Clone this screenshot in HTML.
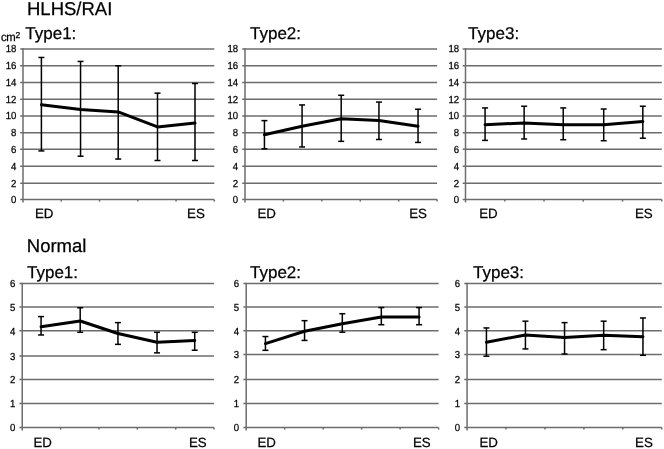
<!DOCTYPE html>
<html><head><meta charset="utf-8"><style>
html,body{margin:0;padding:0;background:#fff;width:664px;height:449px;overflow:hidden}
svg{display:block}
text{font-family:"Liberation Sans", sans-serif;fill:#000;stroke:#000;stroke-width:0.25px;text-rendering:geometricPrecision}
svg{will-change:transform}
</style></head><body>
<svg width="664" height="449" viewBox="0 0 664 449">
<rect width="664" height="449" fill="#fff"/>
<line x1="20.20" y1="199.57" x2="214.30" y2="199.57" stroke="#6c6c6c" stroke-width="1.5"/>
<text transform="translate(16.30,202.97) scale(0.94,1)" font-size="10.2" text-anchor="end">0</text>
<line x1="20.20" y1="183.33" x2="214.30" y2="183.33" stroke="#6c6c6c" stroke-width="1.5"/>
<text transform="translate(16.30,186.73) scale(0.94,1)" font-size="10.2" text-anchor="end">2</text>
<line x1="20.20" y1="166.37" x2="214.30" y2="166.37" stroke="#6c6c6c" stroke-width="1.5"/>
<text transform="translate(16.30,169.77) scale(0.94,1)" font-size="10.2" text-anchor="end">4</text>
<line x1="20.20" y1="149.37" x2="214.30" y2="149.37" stroke="#6c6c6c" stroke-width="1.5"/>
<text transform="translate(16.30,152.77) scale(0.94,1)" font-size="10.2" text-anchor="end">6</text>
<line x1="20.20" y1="132.83" x2="214.30" y2="132.83" stroke="#6c6c6c" stroke-width="1.5"/>
<text transform="translate(16.30,136.23) scale(0.94,1)" font-size="10.2" text-anchor="end">8</text>
<line x1="20.20" y1="116.00" x2="214.30" y2="116.00" stroke="#6c6c6c" stroke-width="1.5"/>
<text transform="translate(16.30,119.40) scale(0.94,1)" font-size="10.2" text-anchor="end">10</text>
<line x1="20.20" y1="99.37" x2="214.30" y2="99.37" stroke="#6c6c6c" stroke-width="1.5"/>
<text transform="translate(16.30,102.77) scale(0.94,1)" font-size="10.2" text-anchor="end">12</text>
<line x1="20.20" y1="82.57" x2="214.30" y2="82.57" stroke="#6c6c6c" stroke-width="1.5"/>
<text transform="translate(16.30,85.97) scale(0.94,1)" font-size="10.2" text-anchor="end">14</text>
<line x1="20.20" y1="65.70" x2="214.30" y2="65.70" stroke="#6c6c6c" stroke-width="1.5"/>
<text transform="translate(16.30,69.10) scale(0.94,1)" font-size="10.2" text-anchor="end">16</text>
<line x1="20.20" y1="48.94" x2="214.30" y2="48.94" stroke="#6c6c6c" stroke-width="1.5"/>
<text transform="translate(16.30,52.34) scale(0.94,1)" font-size="10.2" text-anchor="end">18</text>
<line x1="23.00" y1="48.19" x2="23.00" y2="202.40" stroke="#6c6c6c" stroke-width="1.5"/>
<line x1="61.26" y1="199.60" x2="61.26" y2="201.60" stroke="#6c6c6c" stroke-width="1.5"/>
<line x1="99.52" y1="199.60" x2="99.52" y2="201.60" stroke="#6c6c6c" stroke-width="1.5"/>
<line x1="137.78" y1="199.60" x2="137.78" y2="201.60" stroke="#6c6c6c" stroke-width="1.5"/>
<line x1="176.04" y1="199.60" x2="176.04" y2="201.60" stroke="#6c6c6c" stroke-width="1.5"/>
<line x1="214.30" y1="199.60" x2="214.30" y2="201.60" stroke="#6c6c6c" stroke-width="1.5"/>
<line x1="41.40" y1="57.47" x2="41.40" y2="150.93" stroke="#000" stroke-width="1.5"/>
<line x1="38.40" y1="57.47" x2="44.40" y2="57.47" stroke="#000" stroke-width="1.5"/>
<line x1="38.40" y1="150.93" x2="44.40" y2="150.93" stroke="#000" stroke-width="1.5"/>
<line x1="80.55" y1="61.42" x2="80.55" y2="156.21" stroke="#000" stroke-width="1.5"/>
<line x1="77.55" y1="61.42" x2="83.55" y2="61.42" stroke="#000" stroke-width="1.5"/>
<line x1="77.55" y1="156.21" x2="83.55" y2="156.21" stroke="#000" stroke-width="1.5"/>
<line x1="118.20" y1="65.78" x2="118.20" y2="159.06" stroke="#000" stroke-width="1.5"/>
<line x1="115.20" y1="65.78" x2="121.20" y2="65.78" stroke="#000" stroke-width="1.5"/>
<line x1="115.20" y1="159.06" x2="121.20" y2="159.06" stroke="#000" stroke-width="1.5"/>
<line x1="157.50" y1="93.13" x2="157.50" y2="160.49" stroke="#000" stroke-width="1.5"/>
<line x1="154.50" y1="93.13" x2="160.50" y2="93.13" stroke="#000" stroke-width="1.5"/>
<line x1="154.50" y1="160.49" x2="160.50" y2="160.49" stroke="#000" stroke-width="1.5"/>
<line x1="195.00" y1="83.48" x2="195.00" y2="160.49" stroke="#000" stroke-width="1.5"/>
<line x1="192.00" y1="83.48" x2="198.00" y2="83.48" stroke="#000" stroke-width="1.5"/>
<line x1="192.00" y1="160.49" x2="198.00" y2="160.49" stroke="#000" stroke-width="1.5"/>
<polyline points="41.40,104.83 80.55,109.45 118.20,111.97 157.50,126.90 195.00,123.04" fill="none" stroke="#000" stroke-width="3" stroke-linejoin="round" stroke-linecap="round"/>
<line x1="242.20" y1="199.57" x2="437.10" y2="199.57" stroke="#6c6c6c" stroke-width="1.5"/>
<text transform="translate(238.20,202.97) scale(0.94,1)" font-size="10.2" text-anchor="end">0</text>
<line x1="242.20" y1="183.33" x2="437.10" y2="183.33" stroke="#6c6c6c" stroke-width="1.5"/>
<text transform="translate(238.20,186.73) scale(0.94,1)" font-size="10.2" text-anchor="end">2</text>
<line x1="242.20" y1="166.37" x2="437.10" y2="166.37" stroke="#6c6c6c" stroke-width="1.5"/>
<text transform="translate(238.20,169.77) scale(0.94,1)" font-size="10.2" text-anchor="end">4</text>
<line x1="242.20" y1="149.37" x2="437.10" y2="149.37" stroke="#6c6c6c" stroke-width="1.5"/>
<text transform="translate(238.20,152.77) scale(0.94,1)" font-size="10.2" text-anchor="end">6</text>
<line x1="242.20" y1="132.83" x2="437.10" y2="132.83" stroke="#6c6c6c" stroke-width="1.5"/>
<text transform="translate(238.20,136.23) scale(0.94,1)" font-size="10.2" text-anchor="end">8</text>
<line x1="242.20" y1="116.00" x2="437.10" y2="116.00" stroke="#6c6c6c" stroke-width="1.5"/>
<text transform="translate(238.20,119.40) scale(0.94,1)" font-size="10.2" text-anchor="end">10</text>
<line x1="242.20" y1="99.37" x2="437.10" y2="99.37" stroke="#6c6c6c" stroke-width="1.5"/>
<text transform="translate(238.20,102.77) scale(0.94,1)" font-size="10.2" text-anchor="end">12</text>
<line x1="242.20" y1="82.57" x2="437.10" y2="82.57" stroke="#6c6c6c" stroke-width="1.5"/>
<text transform="translate(238.20,85.97) scale(0.94,1)" font-size="10.2" text-anchor="end">14</text>
<line x1="242.20" y1="65.70" x2="437.10" y2="65.70" stroke="#6c6c6c" stroke-width="1.5"/>
<text transform="translate(238.20,69.10) scale(0.94,1)" font-size="10.2" text-anchor="end">16</text>
<line x1="242.20" y1="48.94" x2="437.10" y2="48.94" stroke="#6c6c6c" stroke-width="1.5"/>
<text transform="translate(238.20,52.34) scale(0.94,1)" font-size="10.2" text-anchor="end">18</text>
<line x1="245.00" y1="48.19" x2="245.00" y2="202.40" stroke="#6c6c6c" stroke-width="1.5"/>
<line x1="283.42" y1="199.60" x2="283.42" y2="201.60" stroke="#6c6c6c" stroke-width="1.5"/>
<line x1="321.84" y1="199.60" x2="321.84" y2="201.60" stroke="#6c6c6c" stroke-width="1.5"/>
<line x1="360.26" y1="199.60" x2="360.26" y2="201.60" stroke="#6c6c6c" stroke-width="1.5"/>
<line x1="398.68" y1="199.60" x2="398.68" y2="201.60" stroke="#6c6c6c" stroke-width="1.5"/>
<line x1="437.10" y1="199.60" x2="437.10" y2="201.60" stroke="#6c6c6c" stroke-width="1.5"/>
<line x1="264.43" y1="120.62" x2="264.43" y2="148.81" stroke="#000" stroke-width="1.5"/>
<line x1="261.43" y1="120.62" x2="267.43" y2="120.62" stroke="#000" stroke-width="1.5"/>
<line x1="261.43" y1="148.81" x2="267.43" y2="148.81" stroke="#000" stroke-width="1.5"/>
<line x1="302.07" y1="104.93" x2="302.07" y2="146.96" stroke="#000" stroke-width="1.5"/>
<line x1="299.07" y1="104.93" x2="305.07" y2="104.93" stroke="#000" stroke-width="1.5"/>
<line x1="299.07" y1="146.96" x2="305.07" y2="146.96" stroke="#000" stroke-width="1.5"/>
<line x1="341.19" y1="95.29" x2="341.19" y2="141.34" stroke="#000" stroke-width="1.5"/>
<line x1="338.19" y1="95.29" x2="344.19" y2="95.29" stroke="#000" stroke-width="1.5"/>
<line x1="338.19" y1="141.34" x2="344.19" y2="141.34" stroke="#000" stroke-width="1.5"/>
<line x1="378.95" y1="102.08" x2="378.95" y2="139.50" stroke="#000" stroke-width="1.5"/>
<line x1="375.95" y1="102.08" x2="381.95" y2="102.08" stroke="#000" stroke-width="1.5"/>
<line x1="375.95" y1="139.50" x2="381.95" y2="139.50" stroke="#000" stroke-width="1.5"/>
<line x1="418.04" y1="109.21" x2="418.04" y2="142.43" stroke="#000" stroke-width="1.5"/>
<line x1="415.04" y1="109.21" x2="421.04" y2="109.21" stroke="#000" stroke-width="1.5"/>
<line x1="415.04" y1="142.43" x2="421.04" y2="142.43" stroke="#000" stroke-width="1.5"/>
<polyline points="264.43,134.75 302.07,126.19 341.19,118.72 378.95,120.49 418.04,126.19" fill="none" stroke="#000" stroke-width="3" stroke-linejoin="round" stroke-linecap="round"/>
<line x1="462.70" y1="199.57" x2="661.80" y2="199.57" stroke="#6c6c6c" stroke-width="1.5"/>
<text transform="translate(459.20,202.97) scale(0.94,1)" font-size="10.2" text-anchor="end">0</text>
<line x1="462.70" y1="183.33" x2="661.80" y2="183.33" stroke="#6c6c6c" stroke-width="1.5"/>
<text transform="translate(459.20,186.73) scale(0.94,1)" font-size="10.2" text-anchor="end">2</text>
<line x1="462.70" y1="166.37" x2="661.80" y2="166.37" stroke="#6c6c6c" stroke-width="1.5"/>
<text transform="translate(459.20,169.77) scale(0.94,1)" font-size="10.2" text-anchor="end">4</text>
<line x1="462.70" y1="149.37" x2="661.80" y2="149.37" stroke="#6c6c6c" stroke-width="1.5"/>
<text transform="translate(459.20,152.77) scale(0.94,1)" font-size="10.2" text-anchor="end">6</text>
<line x1="462.70" y1="132.83" x2="661.80" y2="132.83" stroke="#6c6c6c" stroke-width="1.5"/>
<text transform="translate(459.20,136.23) scale(0.94,1)" font-size="10.2" text-anchor="end">8</text>
<line x1="462.70" y1="116.00" x2="661.80" y2="116.00" stroke="#6c6c6c" stroke-width="1.5"/>
<text transform="translate(459.20,119.40) scale(0.94,1)" font-size="10.2" text-anchor="end">10</text>
<line x1="462.70" y1="99.37" x2="661.80" y2="99.37" stroke="#6c6c6c" stroke-width="1.5"/>
<text transform="translate(459.20,102.77) scale(0.94,1)" font-size="10.2" text-anchor="end">12</text>
<line x1="462.70" y1="82.57" x2="661.80" y2="82.57" stroke="#6c6c6c" stroke-width="1.5"/>
<text transform="translate(459.20,85.97) scale(0.94,1)" font-size="10.2" text-anchor="end">14</text>
<line x1="462.70" y1="65.70" x2="661.80" y2="65.70" stroke="#6c6c6c" stroke-width="1.5"/>
<text transform="translate(459.20,69.10) scale(0.94,1)" font-size="10.2" text-anchor="end">16</text>
<line x1="462.70" y1="48.94" x2="661.80" y2="48.94" stroke="#6c6c6c" stroke-width="1.5"/>
<text transform="translate(459.20,52.34) scale(0.94,1)" font-size="10.2" text-anchor="end">18</text>
<line x1="465.50" y1="48.19" x2="465.50" y2="202.40" stroke="#6c6c6c" stroke-width="1.5"/>
<line x1="504.76" y1="199.60" x2="504.76" y2="201.60" stroke="#6c6c6c" stroke-width="1.5"/>
<line x1="544.02" y1="199.60" x2="544.02" y2="201.60" stroke="#6c6c6c" stroke-width="1.5"/>
<line x1="583.28" y1="199.60" x2="583.28" y2="201.60" stroke="#6c6c6c" stroke-width="1.5"/>
<line x1="622.54" y1="199.60" x2="622.54" y2="201.60" stroke="#6c6c6c" stroke-width="1.5"/>
<line x1="661.80" y1="199.60" x2="661.80" y2="201.60" stroke="#6c6c6c" stroke-width="1.5"/>
<line x1="485.07" y1="107.92" x2="485.07" y2="140.39" stroke="#000" stroke-width="1.5"/>
<line x1="482.07" y1="107.92" x2="488.07" y2="107.92" stroke="#000" stroke-width="1.5"/>
<line x1="482.07" y1="140.39" x2="488.07" y2="140.39" stroke="#000" stroke-width="1.5"/>
<line x1="524.14" y1="106.24" x2="524.14" y2="138.96" stroke="#000" stroke-width="1.5"/>
<line x1="521.14" y1="106.24" x2="527.14" y2="106.24" stroke="#000" stroke-width="1.5"/>
<line x1="521.14" y1="138.96" x2="527.14" y2="138.96" stroke="#000" stroke-width="1.5"/>
<line x1="563.23" y1="107.92" x2="563.23" y2="139.72" stroke="#000" stroke-width="1.5"/>
<line x1="560.23" y1="107.92" x2="566.23" y2="107.92" stroke="#000" stroke-width="1.5"/>
<line x1="560.23" y1="139.72" x2="566.23" y2="139.72" stroke="#000" stroke-width="1.5"/>
<line x1="603.71" y1="109.01" x2="603.71" y2="140.72" stroke="#000" stroke-width="1.5"/>
<line x1="600.71" y1="109.01" x2="606.71" y2="109.01" stroke="#000" stroke-width="1.5"/>
<line x1="600.71" y1="140.72" x2="606.71" y2="140.72" stroke="#000" stroke-width="1.5"/>
<line x1="642.83" y1="106.24" x2="642.83" y2="138.21" stroke="#000" stroke-width="1.5"/>
<line x1="639.83" y1="106.24" x2="645.83" y2="106.24" stroke="#000" stroke-width="1.5"/>
<line x1="639.83" y1="138.21" x2="645.83" y2="138.21" stroke="#000" stroke-width="1.5"/>
<polyline points="485.07,124.68 524.14,123.00 563.23,124.68 603.71,124.68 642.83,121.49" fill="none" stroke="#000" stroke-width="3" stroke-linejoin="round" stroke-linecap="round"/>
<line x1="19.43" y1="427.49" x2="214.05" y2="427.49" stroke="#6c6c6c" stroke-width="1.5"/>
<text transform="translate(15.30,431.24) scale(0.94,1)" font-size="10.2" text-anchor="end">0</text>
<line x1="19.43" y1="403.46" x2="214.05" y2="403.46" stroke="#6c6c6c" stroke-width="1.5"/>
<text transform="translate(15.30,407.21) scale(0.94,1)" font-size="10.2" text-anchor="end">1</text>
<line x1="19.43" y1="379.60" x2="214.05" y2="379.60" stroke="#6c6c6c" stroke-width="1.5"/>
<text transform="translate(15.30,383.35) scale(0.94,1)" font-size="10.2" text-anchor="end">2</text>
<line x1="19.43" y1="355.88" x2="214.05" y2="355.88" stroke="#6c6c6c" stroke-width="1.5"/>
<text transform="translate(15.30,359.63) scale(0.94,1)" font-size="10.2" text-anchor="end">3</text>
<line x1="19.43" y1="330.83" x2="214.05" y2="330.83" stroke="#6c6c6c" stroke-width="1.5"/>
<text transform="translate(15.30,334.58) scale(0.94,1)" font-size="10.2" text-anchor="end">4</text>
<line x1="19.43" y1="307.08" x2="214.05" y2="307.08" stroke="#6c6c6c" stroke-width="1.5"/>
<text transform="translate(15.30,310.83) scale(0.94,1)" font-size="10.2" text-anchor="end">5</text>
<line x1="19.43" y1="283.42" x2="214.05" y2="283.42" stroke="#6c6c6c" stroke-width="1.5"/>
<text transform="translate(15.30,287.17) scale(0.94,1)" font-size="10.2" text-anchor="end">6</text>
<line x1="22.23" y1="282.65" x2="22.23" y2="430.40" stroke="#6c6c6c" stroke-width="1.5"/>
<line x1="60.59" y1="427.60" x2="60.59" y2="429.60" stroke="#6c6c6c" stroke-width="1.5"/>
<line x1="98.96" y1="427.60" x2="98.96" y2="429.60" stroke="#6c6c6c" stroke-width="1.5"/>
<line x1="137.32" y1="427.60" x2="137.32" y2="429.60" stroke="#6c6c6c" stroke-width="1.5"/>
<line x1="175.69" y1="427.60" x2="175.69" y2="429.60" stroke="#6c6c6c" stroke-width="1.5"/>
<line x1="214.05" y1="427.60" x2="214.05" y2="429.60" stroke="#6c6c6c" stroke-width="1.5"/>
<line x1="41.07" y1="316.58" x2="41.07" y2="334.97" stroke="#000" stroke-width="1.5"/>
<line x1="38.07" y1="316.58" x2="44.07" y2="316.58" stroke="#000" stroke-width="1.5"/>
<line x1="38.07" y1="334.97" x2="44.07" y2="334.97" stroke="#000" stroke-width="1.5"/>
<line x1="80.19" y1="307.75" x2="80.19" y2="332.29" stroke="#000" stroke-width="1.5"/>
<line x1="77.19" y1="307.75" x2="83.19" y2="307.75" stroke="#000" stroke-width="1.5"/>
<line x1="77.19" y1="332.29" x2="83.19" y2="332.29" stroke="#000" stroke-width="1.5"/>
<line x1="117.95" y1="322.62" x2="117.95" y2="344.35" stroke="#000" stroke-width="1.5"/>
<line x1="114.95" y1="322.62" x2="120.95" y2="322.62" stroke="#000" stroke-width="1.5"/>
<line x1="114.95" y1="344.35" x2="120.95" y2="344.35" stroke="#000" stroke-width="1.5"/>
<line x1="157.04" y1="332.29" x2="157.04" y2="352.86" stroke="#000" stroke-width="1.5"/>
<line x1="154.04" y1="332.29" x2="160.04" y2="332.29" stroke="#000" stroke-width="1.5"/>
<line x1="154.04" y1="352.86" x2="160.04" y2="352.86" stroke="#000" stroke-width="1.5"/>
<line x1="194.71" y1="332.29" x2="194.71" y2="350.22" stroke="#000" stroke-width="1.5"/>
<line x1="191.71" y1="332.29" x2="197.71" y2="332.29" stroke="#000" stroke-width="1.5"/>
<line x1="191.71" y1="350.22" x2="197.71" y2="350.22" stroke="#000" stroke-width="1.5"/>
<polyline points="41.07,326.73 80.19,320.98 117.95,333.54 157.04,342.22 194.71,340.50" fill="none" stroke="#000" stroke-width="3" stroke-linejoin="round" stroke-linecap="round"/>
<line x1="243.39" y1="427.49" x2="438.60" y2="427.49" stroke="#6c6c6c" stroke-width="1.5"/>
<text transform="translate(239.20,431.24) scale(0.94,1)" font-size="10.2" text-anchor="end">0</text>
<line x1="243.39" y1="403.46" x2="438.60" y2="403.46" stroke="#6c6c6c" stroke-width="1.5"/>
<text transform="translate(239.20,407.21) scale(0.94,1)" font-size="10.2" text-anchor="end">1</text>
<line x1="243.39" y1="379.60" x2="438.60" y2="379.60" stroke="#6c6c6c" stroke-width="1.5"/>
<text transform="translate(239.20,383.35) scale(0.94,1)" font-size="10.2" text-anchor="end">2</text>
<line x1="243.39" y1="354.46" x2="438.60" y2="354.46" stroke="#6c6c6c" stroke-width="1.5"/>
<text transform="translate(239.20,358.21) scale(0.94,1)" font-size="10.2" text-anchor="end">3</text>
<line x1="243.39" y1="330.83" x2="438.60" y2="330.83" stroke="#6c6c6c" stroke-width="1.5"/>
<text transform="translate(239.20,334.58) scale(0.94,1)" font-size="10.2" text-anchor="end">4</text>
<line x1="243.39" y1="307.08" x2="438.60" y2="307.08" stroke="#6c6c6c" stroke-width="1.5"/>
<text transform="translate(239.20,310.83) scale(0.94,1)" font-size="10.2" text-anchor="end">5</text>
<line x1="243.39" y1="283.42" x2="438.60" y2="283.42" stroke="#6c6c6c" stroke-width="1.5"/>
<text transform="translate(239.20,287.17) scale(0.94,1)" font-size="10.2" text-anchor="end">6</text>
<line x1="246.19" y1="282.65" x2="246.19" y2="430.40" stroke="#6c6c6c" stroke-width="1.5"/>
<line x1="284.67" y1="427.60" x2="284.67" y2="429.60" stroke="#6c6c6c" stroke-width="1.5"/>
<line x1="323.15" y1="427.60" x2="323.15" y2="429.60" stroke="#6c6c6c" stroke-width="1.5"/>
<line x1="361.64" y1="427.60" x2="361.64" y2="429.60" stroke="#6c6c6c" stroke-width="1.5"/>
<line x1="400.12" y1="427.60" x2="400.12" y2="429.60" stroke="#6c6c6c" stroke-width="1.5"/>
<line x1="438.60" y1="427.60" x2="438.60" y2="429.60" stroke="#6c6c6c" stroke-width="1.5"/>
<line x1="265.43" y1="336.55" x2="265.43" y2="350.33" stroke="#000" stroke-width="1.5"/>
<line x1="262.43" y1="336.55" x2="268.43" y2="336.55" stroke="#000" stroke-width="1.5"/>
<line x1="262.43" y1="350.33" x2="268.43" y2="350.33" stroke="#000" stroke-width="1.5"/>
<line x1="304.55" y1="320.67" x2="304.55" y2="340.42" stroke="#000" stroke-width="1.5"/>
<line x1="301.55" y1="320.67" x2="307.55" y2="320.67" stroke="#000" stroke-width="1.5"/>
<line x1="301.55" y1="340.42" x2="307.55" y2="340.42" stroke="#000" stroke-width="1.5"/>
<line x1="342.31" y1="313.71" x2="342.31" y2="332.20" stroke="#000" stroke-width="1.5"/>
<line x1="339.31" y1="313.71" x2="345.31" y2="313.71" stroke="#000" stroke-width="1.5"/>
<line x1="339.31" y1="332.20" x2="345.31" y2="332.20" stroke="#000" stroke-width="1.5"/>
<line x1="381.31" y1="307.55" x2="381.31" y2="324.71" stroke="#000" stroke-width="1.5"/>
<line x1="378.31" y1="307.55" x2="384.31" y2="307.55" stroke="#000" stroke-width="1.5"/>
<line x1="378.31" y1="324.71" x2="384.31" y2="324.71" stroke="#000" stroke-width="1.5"/>
<line x1="419.07" y1="307.55" x2="419.07" y2="324.71" stroke="#000" stroke-width="1.5"/>
<line x1="416.07" y1="307.55" x2="422.07" y2="307.55" stroke="#000" stroke-width="1.5"/>
<line x1="416.07" y1="324.71" x2="422.07" y2="324.71" stroke="#000" stroke-width="1.5"/>
<polyline points="265.43,343.56 304.55,331.24 342.31,323.74 381.31,316.98 419.07,316.98" fill="none" stroke="#000" stroke-width="3" stroke-linejoin="round" stroke-linecap="round"/>
<line x1="464.27" y1="427.49" x2="661.80" y2="427.49" stroke="#6c6c6c" stroke-width="1.5"/>
<text transform="translate(460.20,431.24) scale(0.94,1)" font-size="10.2" text-anchor="end">0</text>
<line x1="464.27" y1="403.46" x2="661.80" y2="403.46" stroke="#6c6c6c" stroke-width="1.5"/>
<text transform="translate(460.20,407.21) scale(0.94,1)" font-size="10.2" text-anchor="end">1</text>
<line x1="464.27" y1="379.60" x2="661.80" y2="379.60" stroke="#6c6c6c" stroke-width="1.5"/>
<text transform="translate(460.20,383.35) scale(0.94,1)" font-size="10.2" text-anchor="end">2</text>
<line x1="464.27" y1="354.46" x2="661.80" y2="354.46" stroke="#6c6c6c" stroke-width="1.5"/>
<text transform="translate(460.20,358.21) scale(0.94,1)" font-size="10.2" text-anchor="end">3</text>
<line x1="464.27" y1="330.83" x2="661.80" y2="330.83" stroke="#6c6c6c" stroke-width="1.5"/>
<text transform="translate(460.20,334.58) scale(0.94,1)" font-size="10.2" text-anchor="end">4</text>
<line x1="464.27" y1="307.08" x2="661.80" y2="307.08" stroke="#6c6c6c" stroke-width="1.5"/>
<text transform="translate(460.20,310.83) scale(0.94,1)" font-size="10.2" text-anchor="end">5</text>
<line x1="464.27" y1="283.42" x2="661.80" y2="283.42" stroke="#6c6c6c" stroke-width="1.5"/>
<text transform="translate(460.20,287.17) scale(0.94,1)" font-size="10.2" text-anchor="end">6</text>
<line x1="467.07" y1="282.65" x2="467.07" y2="430.40" stroke="#6c6c6c" stroke-width="1.5"/>
<line x1="506.02" y1="427.60" x2="506.02" y2="429.60" stroke="#6c6c6c" stroke-width="1.5"/>
<line x1="544.96" y1="427.60" x2="544.96" y2="429.60" stroke="#6c6c6c" stroke-width="1.5"/>
<line x1="583.91" y1="427.60" x2="583.91" y2="429.60" stroke="#6c6c6c" stroke-width="1.5"/>
<line x1="622.85" y1="427.60" x2="622.85" y2="429.60" stroke="#6c6c6c" stroke-width="1.5"/>
<line x1="661.80" y1="427.60" x2="661.80" y2="429.60" stroke="#6c6c6c" stroke-width="1.5"/>
<line x1="486.43" y1="327.94" x2="486.43" y2="356.19" stroke="#000" stroke-width="1.5"/>
<line x1="483.43" y1="327.94" x2="489.43" y2="327.94" stroke="#000" stroke-width="1.5"/>
<line x1="483.43" y1="356.19" x2="489.43" y2="356.19" stroke="#000" stroke-width="1.5"/>
<line x1="525.43" y1="321.17" x2="525.43" y2="348.94" stroke="#000" stroke-width="1.5"/>
<line x1="522.43" y1="321.17" x2="528.43" y2="321.17" stroke="#000" stroke-width="1.5"/>
<line x1="522.43" y1="348.94" x2="528.43" y2="348.94" stroke="#000" stroke-width="1.5"/>
<line x1="564.55" y1="322.62" x2="564.55" y2="354.02" stroke="#000" stroke-width="1.5"/>
<line x1="561.55" y1="322.62" x2="567.55" y2="322.62" stroke="#000" stroke-width="1.5"/>
<line x1="561.55" y1="354.02" x2="567.55" y2="354.02" stroke="#000" stroke-width="1.5"/>
<line x1="603.66" y1="321.17" x2="603.66" y2="349.67" stroke="#000" stroke-width="1.5"/>
<line x1="600.66" y1="321.17" x2="606.66" y2="321.17" stroke="#000" stroke-width="1.5"/>
<line x1="600.66" y1="349.67" x2="606.66" y2="349.67" stroke="#000" stroke-width="1.5"/>
<line x1="642.95" y1="317.98" x2="642.95" y2="355.32" stroke="#000" stroke-width="1.5"/>
<line x1="639.95" y1="317.98" x2="645.95" y2="317.98" stroke="#000" stroke-width="1.5"/>
<line x1="639.95" y1="355.32" x2="645.95" y2="355.32" stroke="#000" stroke-width="1.5"/>
<polyline points="486.43,342.20 525.43,334.95 564.55,337.60 603.66,335.19 642.95,336.76" fill="none" stroke="#000" stroke-width="3" stroke-linejoin="round" stroke-linecap="round"/>
<text x="27" y="14.9" font-size="18.5" text-anchor="start" >HLHS/RAI</text>
<text x="26.8" y="252.4" font-size="18.5" text-anchor="start" >Normal</text>
<text x="25.3" y="39.3" font-size="17" text-anchor="start" >Type1:</text>
<text x="250" y="39.3" font-size="17" text-anchor="start" >Type2:</text>
<text x="468.1" y="39.3" font-size="17" text-anchor="start" >Type3:</text>
<text x="27.0" y="277.5" font-size="17" text-anchor="start" >Type1:</text>
<text x="250" y="277.5" font-size="17" text-anchor="start" >Type2:</text>
<text x="473.0" y="277.5" font-size="17" text-anchor="start" >Type3:</text>
<text x="35.0" y="217.8" font-size="13.3" text-anchor="start" >ED</text>
<text x="257.4" y="217.8" font-size="13.3" text-anchor="start" >ED</text>
<text x="479.2" y="217.8" font-size="13.3" text-anchor="start" >ED</text>
<text x="187.1" y="217.8" font-size="13.3" text-anchor="start" >ES</text>
<text x="409.2" y="217.8" font-size="13.3" text-anchor="start" >ES</text>
<text x="635.0" y="217.8" font-size="13.3" text-anchor="start" >ES</text>
<text x="33.4" y="447.0" font-size="13.3" text-anchor="start" >ED</text>
<text x="257.4" y="447.0" font-size="13.3" text-anchor="start" >ED</text>
<text x="479.5" y="447.0" font-size="13.3" text-anchor="start" >ED</text>
<text x="188.9" y="447.0" font-size="13.3" text-anchor="start" >ES</text>
<text x="413.0" y="447.0" font-size="13.3" text-anchor="start" >ES</text>
<text x="635.1" y="447.0" font-size="13.3" text-anchor="start" >ES</text>
<text transform="translate(0.9,40.6) scale(0.96,1)" font-size="11.8" letter-spacing="-0.2">cm</text><text x="15.5" y="37.8" font-size="8.6">2</text>
</svg>
</body></html>
